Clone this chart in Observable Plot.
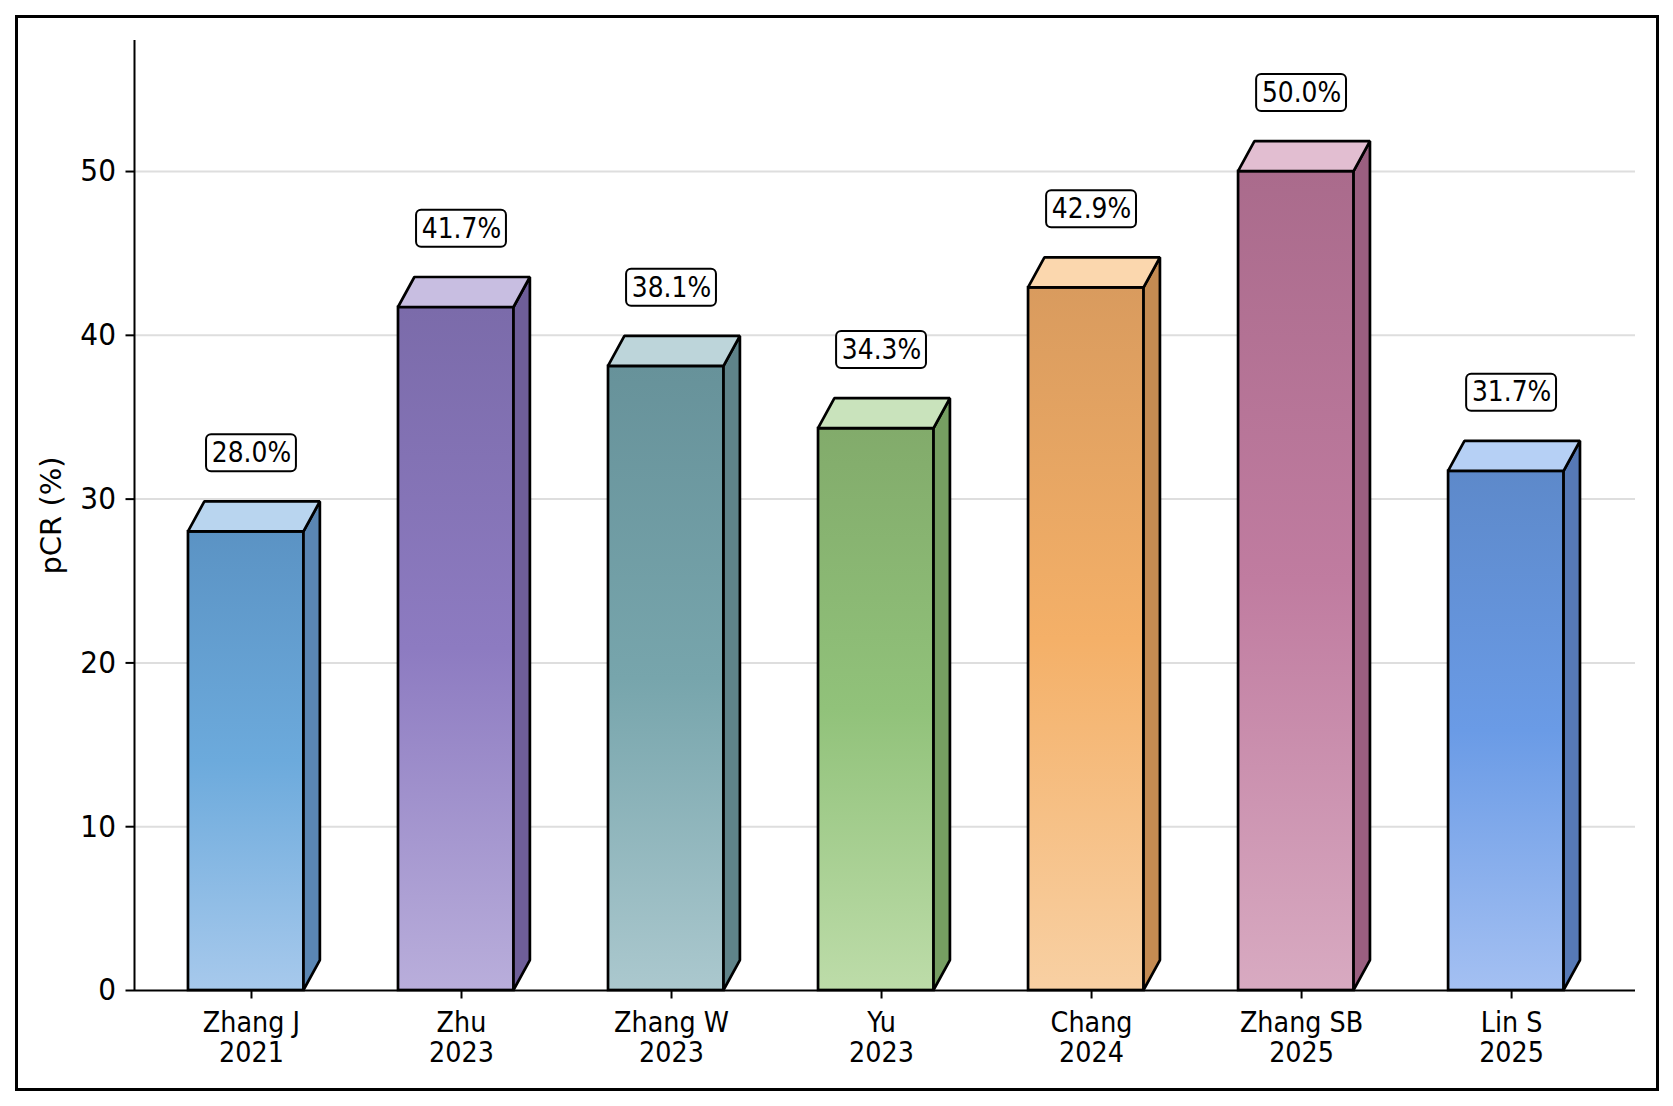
<!DOCTYPE html>
<html>
<head>
<meta charset="utf-8">
<script src="https://cdn.jsdelivr.net/npm/d3@7"></script>
<script src="https://cdn.jsdelivr.net/npm/@observablehq/plot@0.6"></script>
<style>
  html, body { margin: 0; padding: 0; background: #fff; }
  #wrap { position: relative; width: 1673px; height: 1106px; }
  #wrap svg { position: absolute; left: 0; top: 0; }
  #border { position: absolute; left: 15px; top: 15px; width: 1644px; height: 1076px;
            border: 3px solid #000; box-sizing: border-box; pointer-events: none; }
</style>
</head>
<body>
<div id="wrap"><div id="border"></div></div>
<script>
// ---- data ----
const studies = ["Zhang J", "Zhu", "Zhang W", "Yu", "Chang", "Zhang SB", "Lin S"];
const years = [2021, 2023, 2023, 2023, 2024, 2025, 2025];
const pcr = [28.0, 41.7, 38.1, 34.3, 42.9, 50.0, 31.7];
const yTicks = [0, 10, 20, 30, 40, 50];
const yLabel = "pCR (%)";

// colours: gradient top / middle / bottom of front face, top face, side face
const gradTop    = ["#5b93c4", "#7b6baa", "#67929a", "#82ab6b", "#d99b5e", "#aa6b8c", "#5d89ca"];
const gradMid    = ["#6caadc", "#8d7bc1", "#77a5ac", "#91c27a", "#f4b068", "#c07ca0", "#6a9be6"];
const gradBottom = ["#a7c9ec", "#b9aedb", "#abc8ce", "#bddca9", "#f8d0a3", "#d8aac1", "#a4c0f2"];
const topFace    = ["#b9d5ef", "#c8bee1", "#bdd5da", "#c9e3bc", "#fbd7ae", "#e2bed1", "#b6d0f5"];
const sideFace   = ["#5a86b3", "#6e5e99", "#5f8389", "#769e62", "#c48b52", "#9a5f80", "#5679b6"];

// ---- geometry constants (data units) ----
const X_MIN = -0.557, X_MAX = 6.59, Y_MAX = 58;
const FRONT_L = 0.30, FRONT_R = 0.25;   // front face extent around category index
const DX = 0.078, DY = 1.83;           // 3-D depth offsets
const LABEL_OFF = 4.8, BOX_HW = 0.214, BOX_HH = 1.13;
const TEXT_STRETCH = 1.1;

const rows = studies.map((s, i) => ({i, s, year: years[i], v: pcr[i]}));

const barMarks = [];
rows.forEach(d => {
  const xl = d.i - FRONT_L, xr = d.i + FRONT_R, v = d.v;
  barMarks.push(Plot.rect([d], {x1: () => xl, x2: () => xr, y1: () => 0, y2: () => v,
    fill: `url(#grad${d.i})`, stroke: "#000", strokeWidth: 2.7}));
  barMarks.push(Plot.areaY([
      {x: xr, y1: 0, y2: v},
      {x: xr + DX, y1: DY, y2: v + DY}
    ], {x: "x", y1: "y1", y2: "y2", fill: sideFace[d.i], stroke: "#000", strokeWidth: 2.7, strokeLinejoin: "miter"}));
  barMarks.push(Plot.areaY([
      {x: xl, y1: v, y2: v},
      {x: xl + DX, y1: v, y2: v + DY},
      {x: xr, y1: v, y2: v + DY},
      {x: xr + DX, y1: v + DY, y2: v + DY}
    ], {x: "x", y1: "y1", y2: "y2", fill: topFace[d.i], stroke: "#000", strokeWidth: 2.7, strokeLinejoin: "miter"}));
});

const chart = Plot.plot({
  width: 1673,
  height: 1106,
  marginLeft: 134,
  marginRight: 38,
  marginTop: 40,
  marginBottom: 116,
  style: {fontFamily: "'DejaVu Sans', sans-serif", color: "#000", background: "transparent"},
  x: {domain: [X_MIN, X_MAX]},
  y: {domain: [0, Y_MAX]},
  marks: [
    Plot.gridY(yTicks.filter(t => t > 0), {stroke: "#dedede", strokeOpacity: 1, strokeWidth: 2}),
    ...barMarks,
    Plot.rect(rows, {x1: d => d.i - BOX_HW, x2: d => d.i + BOX_HW,
      y1: d => d.v + LABEL_OFF - BOX_HH, y2: d => d.v + LABEL_OFF + BOX_HH,
      fill: "#fff", stroke: "#000", strokeWidth: 2, rx: 5}),
    Plot.text(rows, {x: "i", y: d => d.v + LABEL_OFF, text: d => d.v.toFixed(1) + "%",
      fontSize: 25, fill: "#000"}),
    Plot.ruleY([0], {stroke: "#000", strokeWidth: 2}),
    Plot.ruleX([X_MIN], {y1: 0, y2: Y_MAX, stroke: "#000", strokeWidth: 2}),
    Plot.axisY({ticks: yTicks, tickSize: 8.5, tickPadding: 10, fontSize: 28, label: null, strokeWidth: 2}),
    Plot.axisX({ticks: d3.range(studies.length), tickFormat: i => `${studies[i]}\n${years[i]}`,
      tickSize: 8.5, tickPadding: 12, fontSize: 25.5, lineHeight: 1.066, label: null, strokeWidth: 2}),
    Plot.text([yLabel], {frameAnchor: "left", textAnchor: "middle", lineAnchor: "middle",
      dx: -83, rotate: -90, fontSize: 29, fill: "#000"})
  ]
});

// gradient definitions for the front faces
const ns = "http://www.w3.org/2000/svg";
const defs = document.createElementNS(ns, "defs");
rows.forEach(d => {
  const g = document.createElementNS(ns, "linearGradient");
  g.setAttribute("id", `grad${d.i}`);
  g.setAttribute("x1", "0"); g.setAttribute("y1", "0");
  g.setAttribute("x2", "0"); g.setAttribute("y2", "1");
  [[0, gradTop[d.i]], [0.5, gradMid[d.i]], [1, gradBottom[d.i]]].forEach(([o, c]) => {
    const s = document.createElementNS(ns, "stop");
    s.setAttribute("offset", o);
    s.setAttribute("stop-color", c);
    g.appendChild(s);
  });
  defs.appendChild(g);
});
chart.insertBefore(defs, chart.firstChild);

// slightly taller glyphs for horizontal text, as in the reference
chart.querySelectorAll("text").forEach(t => {
  const tr = t.getAttribute("transform");
  if (tr && !tr.includes("rotate")) t.setAttribute("transform", `${tr} scale(1,${TEXT_STRETCH})`);
});

document.getElementById("wrap").insertBefore(chart, document.getElementById("border"));
</script>
</body>
</html>
